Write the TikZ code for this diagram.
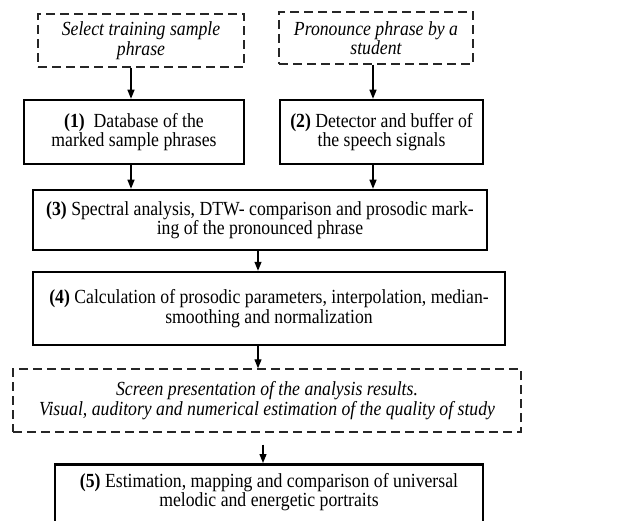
\documentclass[tikz,border=0pt]{standalone}
\usepackage{fontspec}
\setmainfont{Liberation Serif}[FakeStretch=0.885]
\usetikzlibrary{arrows.meta}
\newcommand\boxfont{\fontsize{20}{19.5}\selectfont\lineskiplimit-30pt\relax}
\tikzset{
  blockbox/.style={draw=black, line width=2.5pt, align=center, inner sep=0pt,
    font=\boxfont},
  inputbox/.style={draw=black!85, line width=1.4pt, dash pattern=on 9pt off 5pt,
    align=center, inner sep=0pt, font=\boxfont\itshape}
}
\begin{document}
\begin{tikzpicture}[line cap=butt,line join=miter,>={Triangle[length=9pt,width=7pt]},x=1pt,y=-1pt]
  \useasboundingbox (0,0) rectangle (644,521);
  \clip (0,0) rectangle (644,521);
  \node[inputbox, minimum width=206pt, minimum height=53pt] (sel) at (141,40.5) {Select training sample\\phrase};
  \node[inputbox, minimum width=194pt, minimum height=52pt] (pron) at (376,38) {Pronounce phrase by a\\student};
  \node[blockbox, minimum width=220pt, minimum height=64pt] (db) at (134,132) {\textbf{(1)}\ \ Database of the\\marked sample phrases};
  \node[blockbox, minimum width=203pt, minimum height=64pt] (det) at (381.5,132) {\textbf{(2)} Detector and buffer of\\the speech signals};
  \node[blockbox, minimum width=454pt, minimum height=60pt] (spec) at (260,220) {\textbf{(3)} Spectral analysis, DTW- comparison and prosodic mark-\\ing of the pronounced phrase};
  \node[blockbox, minimum width=472pt, minimum height=73pt] (calc) at (269,308.5) {\textbf{(4)} Calculation of prosodic parameters, interpolation, median-\\smoothing and normalization};
  \node[inputbox, minimum width=508pt, minimum height=63pt] (scr) at (267,400.5) {Screen presentation of the analysis results.\\Visual, auditory and numerical estimation of the quality of study};
  \node[blockbox, minimum width=428pt, anchor=north, inner ysep=9pt, text depth=50pt] (est) at (269,463) {\textbf{(5)} Estimation, mapping and comparison of universal\\melodic and energetic portraits};
  \draw[->,line width=1.2pt] ([xshift=-10pt]sel.south) -- ([xshift=-10pt]sel.south |- db.north);
  \draw[->,line width=1.2pt] ([xshift=-3pt]pron.south) -- ([xshift=-3pt]pron.south |- det.north);
  \draw[->,line width=1.2pt] ([xshift=-3pt]db.south) -- ([xshift=-3pt]db.south |- spec.north);
  \draw[->,line width=1.2pt] ([xshift=-3pt]pron.south |- det.south) -- ([xshift=-3pt]pron.south |- spec.north);
  \draw[->,line width=1.2pt] ([xshift=-2pt]spec.south) -- ([xshift=-2pt]spec.south |- calc.north);
  \draw[->,line width=1.2pt] ([xshift=-2pt]spec.south |- calc.south) -- ([xshift=-2pt]spec.south |- scr.north);
  \draw[->,line width=1.2pt,shorten <=12pt] ([xshift=-4pt]scr.south) -- ([xshift=-4pt]scr.south |- est.north);
\end{tikzpicture}
\end{document}
